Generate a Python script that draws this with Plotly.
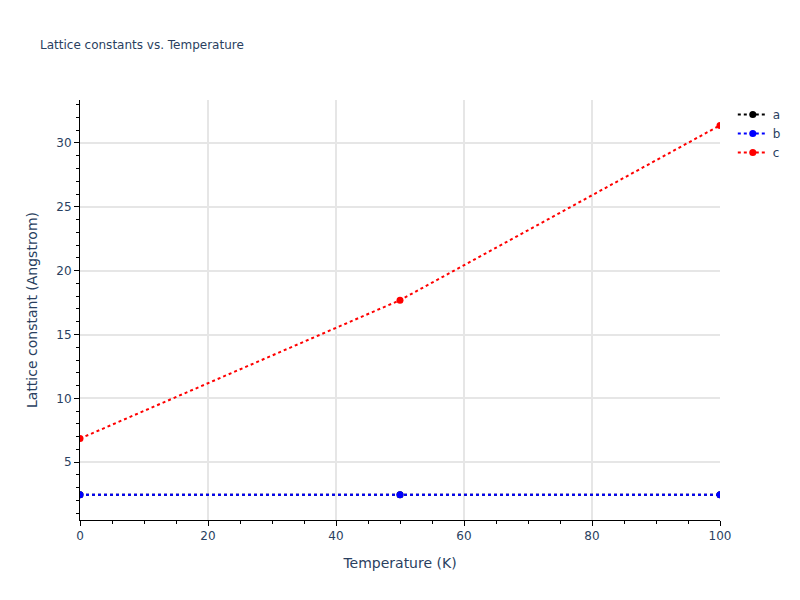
import plotly.graph_objs as go

# temperatures (K) and lattice constants (Angstrom)
temperature = [0, 50, 100]
a_vals = [2.46, 2.46, 2.46]
b_vals = [2.46, 2.46, 2.46]
c_vals = [6.85, 17.69, 31.38]

series = [("a", a_vals, "black"), ("b", b_vals, "blue"), ("c", c_vals, "red")]

data = [go.Scatter(x=temperature, y=vals, name=name, mode="lines+markers",
                   line=dict(color=color, dash="dot", width=2),
                   marker=dict(color=color, size=7))
        for name, vals, color in series]

axis_style = dict(showline=True, linecolor="black", linewidth=1, ticks="outside",
                  tickcolor="black", ticklen=5, gridcolor="#e6e6e6", gridwidth=2,
                  zeroline=False)

# page has an 8px body margin, so margins are shifted to line the plot area up
layout = go.Layout(
    title=dict(text="Lattice constants vs. Temperature", font=dict(size=12),
               x=0.04, y=0.938, yanchor="middle"),
    template="plotly_white",
    font=dict(family="DejaVu Sans"),
    width=800, height=600,
    margin=dict(l=72, r=88, t=92, b=88),
    xaxis=dict(title="Temperature (K)", range=[0, 100],
               minor=dict(ticks="outside", ticklen=3, tickcolor="black", dtick=5, showgrid=False),
               **axis_style),
    yaxis=dict(title="Lattice constant (Angstrom)",
               minor=dict(ticks="outside", ticklen=3, tickcolor="black", dtick=1, showgrid=False),
               **axis_style),
)

fig = go.Figure(data=data, layout=layout)
fig.write_html("out.html")
